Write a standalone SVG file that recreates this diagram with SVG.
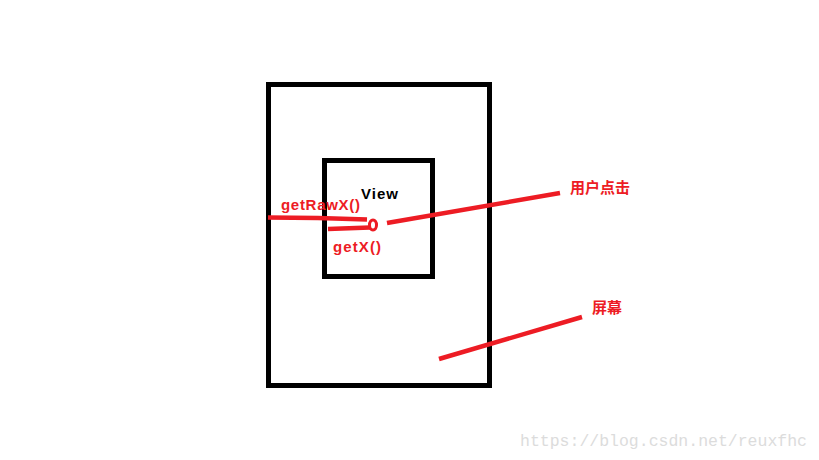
<svg xmlns="http://www.w3.org/2000/svg" width="819" height="460" viewBox="0 0 819 460">
<style>
.box{fill:none;stroke:#000;stroke-width:5}
.red{fill:none;stroke:#ED1C24;stroke-width:4.5;stroke-linecap:butt}
.lbl{font-family:"Liberation Sans","Noto Sans CJK SC",sans-serif;font-weight:bold;fill:#ED1C24}
.blk{font-family:"Liberation Sans",sans-serif;font-weight:bold;fill:#000}
.wm{font-family:"Liberation Mono",monospace;fill:#dcdcdc}
</style>
<rect width="819" height="460" fill="#fff"/>
<g id="screen">
<rect class="box" x="268.5" y="84.5" width="221" height="301"/>
</g>
<g id="view">
<rect class="box" x="324.5" y="160.5" width="108" height="116"/>
<text class="blk" x="361" y="199" font-size="15" textLength="37">View</text>
</g>
<g id="connectors">
<path class="red" d="M268 217.5 L318 218 L367 219.5"/>
<path class="red" d="M328 229 L370 227.5"/>
<ellipse cx="373" cy="225" rx="3.5" ry="5" fill="none" stroke="#ED1C24" stroke-width="3"/>
<path class="red" d="M387 223 L560 193"/>
<path class="red" d="M439 359 L582 317"/>
</g>
<g id="labels">
<text class="lbl" x="281" y="210" font-size="15" textLength="79">getRawX()</text>
<text class="lbl" x="333" y="252" font-size="15" textLength="48">getX()</text>
<text class="lbl" x="570" y="193" font-size="15">用户点击</text>
<text class="lbl" x="592" y="313" font-size="15">屏幕</text>
</g>
<text class="wm" x="520" y="446" font-size="16.5" textLength="287">https://blog.csdn.net/reuxfhc</text>
</svg>
